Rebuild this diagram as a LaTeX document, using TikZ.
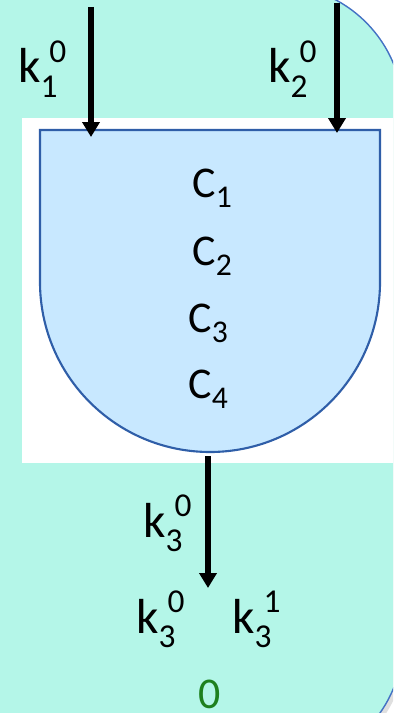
\documentclass[tikz,border=0pt]{standalone}
\usepackage{fontspec}
\setmainfont{Carlito}
\usetikzlibrary{arrows.meta}
\definecolor{mint}{RGB}{180,246,232}
\definecolor{gatefill}{RGB}{200,232,255}
\definecolor{gateline}{RGB}{47,94,168}
\definecolor{frameline}{RGB}{68,114,196}
\definecolor{zerogreen}{RGB}{30,128,30}
\newcommand{\kidx}[2]{k\rlap{\hspace{5pt}\raisebox{0.42em}{\fontsize{19}{19}\selectfont #2}}\raisebox{-0.3em}{\fontsize{19}{19}\selectfont #1}}
\newcommand{\cidx}[1]{C\raisebox{-0.25em}{\fontsize{18}{18}\selectfont #1}}

\begin{document}
\begin{tikzpicture}[x=0.02cm, y=-0.02cm,
    every node/.style={inner sep=0pt, font=\fontsize{28}{28}\selectfont},
    clab/.style={anchor=base west, font=\fontsize{25}{25}\selectfont},
    wire/.style={line width=3pt, -{Triangle[width=0.34cm,length=0.3cm]}}]
  \useasboundingbox (0,0) rectangle (393,713);
  \clip (0,0) rectangle (393,713);
  % background frame
  \fill[gray!25, rounded corners=2.54cm] (-197,-10) rectangle (406,772);
  \filldraw[fill=mint, draw=frameline, line width=0.8pt, rounded corners=2.54cm] (-200,-15) rectangle (403,767);
  \fill[white] (22,118) rectangle (400,463);
  % gate
  \filldraw[fill=gatefill, draw=gateline, line width=1.2pt] (40,130) -- (380,130) -- (380,282) arc (0:180:170) -- cycle;
  \coordinate (src1) at (91,7);
  \coordinate (src2) at (337,3);
  \coordinate (in1) at (91,137);
  \coordinate (in2) at (337,133);
  \coordinate (out) at (208,456);
  \coordinate (dst) at (208,588);
  \node[clab] (c1) at (192,197) {\cidx{1}};
  \node[clab] (c2) at (192,265) {\cidx{2}};
  \node[clab] (c3) at (188,332) {\cidx{3}};
  \node[clab] (c4) at (188,398) {\cidx{4}};
  % keys
  \node[anchor=base west] (k1) at (18,83) {\kidx{1}{0}};
  \node[anchor=base west] (k2) at (268,83) {\kidx{2}{0}};
  \node[anchor=base west] (k3) at (143,537) {\kidx{3}{0}};
  \node[anchor=base west] (k3zero) at (136,633) {\kidx{3}{0}};
  \node[anchor=base west] (k3one) at (232,633) {\kidx{3}{1}};
  \node[anchor=base, text=zerogreen, font=\fontsize{25}{25}\selectfont] (zero) at (210,708) {0};
  \draw[wire] (src1) -- (in1);
  \draw[wire] (src2) -- (in2);
  \draw[wire] (out) -- (dst);
\end{tikzpicture}
\end{document}
